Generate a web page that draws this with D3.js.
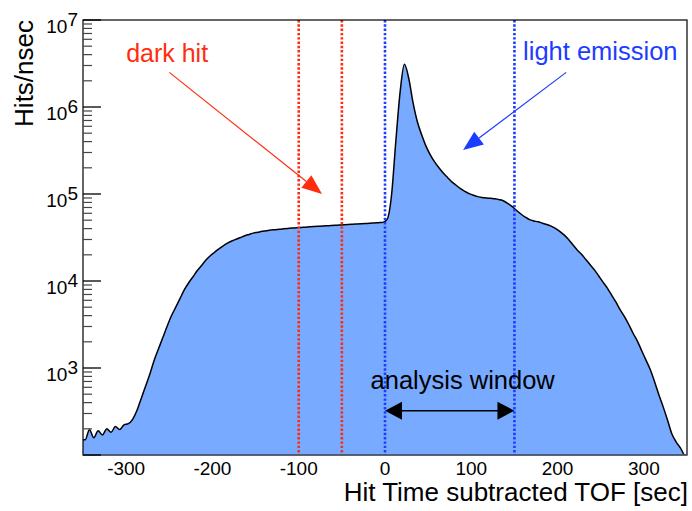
<!DOCTYPE html>
<html>
<head>
<meta charset="utf-8">
<script src="https://cdn.jsdelivr.net/npm/d3@7"></script>
<style>
  html, body { margin: 0; padding: 0; background: #fff; }
  svg text { font-family: "Liberation Sans", Arial, Helvetica, sans-serif; }
</style>
</head>
<body>
<svg id="chart" width="692" height="511"></svg>
<script>
// Hit-time distribution after TOF subtraction, 5 ns bins from -350 to 350 ns
const timeRange = [-350, 350];
const binWidth = 5;
const hitsPerNsec = [
  150, 195, 158, 190, 170, 200, 182, 212, 196, 222,
  229, 257, 324, 447, 617, 851, 1230, 1660, 2240, 3020,
  3980, 5010, 6310, 7940, 9550, 11200, 13200, 15100, 17400, 19500,
  21400, 23400, 25400, 27200, 28800, 30200, 31600, 33100, 34300, 35500,
  36300, 37200, 37800, 38500, 38900, 39400, 39800, 40200, 40600, 40900,
  41300, 41600, 41900, 42200, 42500, 42800, 43100, 43400, 43700, 44000,
  44300, 44600, 44900, 45200, 45500, 45800, 46100, 46500, 46800, 47200,
  51300, 95500, 398000, 1480000, 3090000, 2140000, 1120000, 676000, 479000, 355000,
  282000, 234000, 200000, 174000, 155000, 138000, 126000, 115000, 107000, 101000,
  96600, 93300, 91200, 90200, 89100, 88100, 86100, 83200, 77600, 71600,
  64600, 58900, 54300, 50700, 49000, 47900, 46200, 44700, 42700, 40300,
  37200, 33900, 30200, 26300, 22900, 20400, 17800, 15500, 13500, 11500,
  9770, 8320, 6920, 5750, 4680, 3890, 3160, 2510, 2040, 1580,
  1230, 955, 692, 490, 355, 251, 174, 141, 120, 0
];

// axis settings
const yDomain = [100, 1e7];
const xTickValues = [-300, -200, -100, 0, 100, 200, 300];
const yTickExponents = [3, 4, 5, 6, 7];
const xTitle = "Hit Time subtracted TOF [sec]";
const yTitle = "Hits/nsec";

// marker lines and annotations
const darkHitCuts = [-100, -50];
const analysisWindow = [0, 150];
const darkLabel = { text: "dark hit", t: -300, v: 3.3e6 };
const lightLabel = { text: "light emission", t: 160, v: 3.5e6 };
const windowLabel = { text: "analysis window", t: 90, v: 574 };
const darkArrow = { from: [-250, 2.5e6], to: [-73, 1.0e5] };
const lightArrow = { from: [210, 2.5e6], to: [90.5, 3.2e5] };
const windowArrowLevel = 323;

const frame = { left: 83, right: 687, top: 20, bottom: 455 };
const fillColor = "#78aaff";
const red = "#ff2d0f";
const blue = "#1c3cff";

const svg = d3.select("#chart");

const x = d3.scaleLinear().domain(timeRange).range([frame.left, frame.right]);
const y = d3.scaleLog().domain(yDomain).range([frame.bottom, frame.top]);
const yc = v => y(Math.max(v, yDomain[0]));

const clipId = "plotClip";
svg.append("defs").append("clipPath").attr("id", clipId)
  .append("rect")
  .attr("x", frame.left).attr("y", frame.top)
  .attr("width", frame.right - frame.left).attr("height", frame.bottom - frame.top);

// histogram points at bin centres, extended to the range edges
const pts = hitsPerNsec.map((v, i) => [timeRange[0] + (i + 0.5) * binWidth, v]);
pts.unshift([timeRange[0], hitsPerNsec[0]]);
pts.push([timeRange[1], hitsPerNsec[hitsPerNsec.length - 1]]);

const plot = svg.append("g").attr("clip-path", `url(#${clipId})`);

plot.append("path")
  .datum(pts)
  .attr("fill", fillColor)
  .attr("d", d3.area()
    .x(d => x(d[0]))
    .y0(frame.bottom)
    .y1(d => yc(d[1]))
    .curve(d3.curveMonotoneX));

// dotted cut lines
const cutLine = (t, color) => svg.append("line")
  .attr("x1", x(t)).attr("x2", x(t))
  .attr("y1", frame.top).attr("y2", frame.bottom)
  .attr("stroke", color).attr("stroke-width", 2.6)
  .attr("stroke-dasharray", "2.4,1.9");
darkHitCuts.forEach(t => cutLine(t, red));
analysisWindow.forEach(t => cutLine(t, blue));

// frame
svg.append("rect")
  .attr("x", frame.left).attr("y", frame.top)
  .attr("width", frame.right - frame.left).attr("height", frame.bottom - frame.top)
  .attr("fill", "none").attr("stroke", "#000").attr("stroke-width", 1.2);
svg.append("line")
  .attr("x1", frame.left).attr("x2", frame.right)
  .attr("y1", frame.bottom).attr("y2", frame.bottom)
  .attr("stroke", "#56657e").attr("stroke-width", 1.4);

// y axis ticks (major and minor), pointing inward
const yTicks = svg.append("g");
for (let e = Math.round(Math.log10(yDomain[0])); e < Math.log10(yDomain[1]) + 0.01; e++) {
  for (let m = 1; m <= 9; m++) {
    const v = m * Math.pow(10, e);
    if (v < yDomain[0] || v > yDomain[1]) continue;
    const major = m === 1;
    yTicks.append("line")
      .attr("x1", frame.left).attr("x2", frame.left + (major ? 18 : 9))
      .attr("y1", y(v)).attr("y2", y(v))
      .attr("stroke", major ? "#000" : "#444")
      .attr("stroke-width", major ? 1.3 : 1.2);
  }
}

// histogram outline on top of the ticks it crosses
plot.append("path")
  .datum(pts)
  .attr("fill", "none")
  .attr("stroke", "#000")
  .attr("stroke-width", 1.5)
  .attr("stroke-linejoin", "round")
  .attr("d", d3.line()
    .x(d => x(d[0]))
    .y(d => yc(d[1]))
    .curve(d3.curveMonotoneX));

// y tick labels 10^n
yTickExponents.forEach(e => {
  const t = svg.append("text")
    .attr("x", 78).attr("y", y(Math.pow(10, e)) + 13)
    .attr("text-anchor", "end")
    .attr("font-size", 19)
    .attr("fill", "#000");
  t.append("tspan").text("10");
  t.append("tspan").attr("dy", -7).text(e);
});

// x tick labels
xTickValues.forEach(v => {
  svg.append("text")
    .attr("x", x(v)).attr("y", 475)
    .attr("text-anchor", "middle")
    .attr("font-size", 19)
    .attr("fill", "#000")
    .text(v);
});

// axis titles
svg.append("text")
  .attr("x", frame.right + 1).attr("y", 501)
  .attr("text-anchor", "end")
  .attr("font-size", 26)
  .text(xTitle);
svg.append("text")
  .attr("transform", `translate(33,${frame.top}) rotate(-90)`)
  .attr("text-anchor", "end")
  .attr("font-size", 26)
  .text(yTitle);

// annotation arrows
function arrow(x1, y1, x2, y2, color, width, head, halfW) {
  const g = svg.append("g");
  const ang = Math.atan2(y2 - y1, x2 - x1);
  const bx = x2 - head * Math.cos(ang), by = y2 - head * Math.sin(ang);
  g.append("line")
    .attr("x1", x1).attr("y1", y1).attr("x2", bx).attr("y2", by)
    .attr("stroke", color).attr("stroke-width", width);
  const px = -Math.sin(ang) * halfW, py = Math.cos(ang) * halfW;
  g.append("path")
    .attr("d", `M${x2},${y2}L${bx + px},${by + py}L${bx - px},${by - py}Z`)
    .attr("fill", color);
}

arrow(x(darkArrow.from[0]), y(darkArrow.from[1]), x(darkArrow.to[0]), y(darkArrow.to[1]), red, 1.2, 20, 8);
arrow(x(lightArrow.from[0]), y(lightArrow.from[1]), x(lightArrow.to[0]), y(lightArrow.to[1]), blue, 1.2, 20, 8);

// double-headed arrow across the analysis window
const wy = y(windowArrowLevel);
const wx1 = x(analysisWindow[0]), wx2 = x(analysisWindow[1]);
svg.append("line")
  .attr("x1", wx1 + 16).attr("x2", wx2 - 16).attr("y1", wy).attr("y2", wy)
  .attr("stroke", "#000").attr("stroke-width", 1.5);
svg.append("path").attr("d", `M${wx1},${wy}L${wx1 + 17},${wy - 9}L${wx1 + 17},${wy + 9}Z`).attr("fill", "#000");
svg.append("path").attr("d", `M${wx2},${wy}L${wx2 - 17},${wy - 9}L${wx2 - 17},${wy + 9}Z`).attr("fill", "#000");

// annotation labels
svg.append("text").attr("x", x(darkLabel.t)).attr("y", y(darkLabel.v))
  .attr("font-size", 25).attr("fill", red).text(darkLabel.text);
svg.append("text").attr("x", x(lightLabel.t)).attr("y", y(lightLabel.v))
  .attr("font-size", 25.5).attr("fill", blue).text(lightLabel.text);
svg.append("text").attr("x", x(windowLabel.t)).attr("y", y(windowLabel.v))
  .attr("text-anchor", "middle")
  .attr("font-size", 25.5).attr("fill", "#000").text(windowLabel.text);
</script>
</body>
</html>
